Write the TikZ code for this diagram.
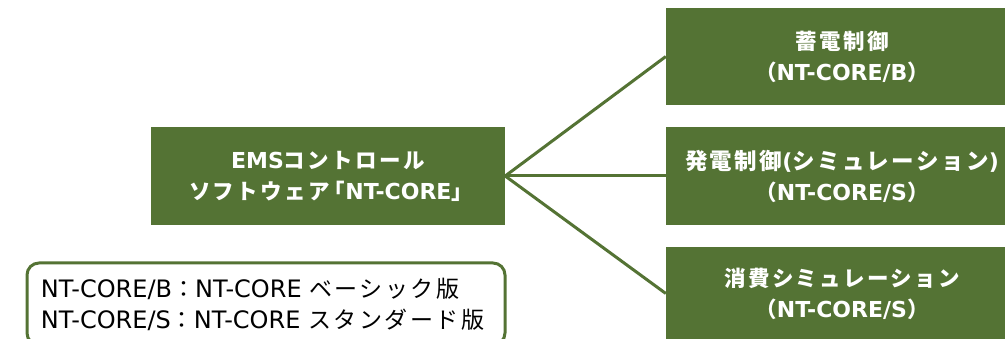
\documentclass[tikz,border=0pt]{standalone}
\usepackage{fontspec}
\setmainfont{Noto Sans CJK JP}[LetterSpace=11]
\newfontfamily\latfont{DejaVu Sans}
\newcommand{\la}[1]{{\latfont\fontsize{24}{31}\selectfont #1}}
\newcommand{\lb}[1]{{\latfont\fontsize{22}{31}\selectfont #1}}
\usetikzlibrary{positioning}
\definecolor{emsgreen}{RGB}{84,115,52}

\begin{document}
\begin{tikzpicture}[x=1pt,y=-1pt]
	\tikzset{box/.style={fill=emsgreen,text=white,font=\fontsize{21.5}{31}\selectfont\bfseries,align=center,inner sep=0pt,minimum height=97pt},
		side/.style={box,minimum width=352pt},
		note/.style={draw=emsgreen,line width=3pt,rounded corners=12pt,fill=white,font=\fontsize{23}{31}\selectfont,align=left,text width=450pt,inner xsep=14pt,minimum height=82pt}}
	\useasboundingbox (0,0) rectangle (1005,339);
	\node[box,minimum width=354pt,minimum height=98pt] (ems) at (328,176) {\lb{EMS}コントロール\\ソフトウェア\kern-6pt「\lb{NT-CORE}」\kern-6pt};
	\node[side] (batt) at (842,56.5) {蓄電制御\\（\lb{NT-CORE/B}）};
	\node[side,minimum height=98pt] (gen) at (842,176) {\fontsize{22.5}{31}\selectfont 発電制御\lb{(}シミュレーション\lb{)}\\（\lb{NT-CORE/S}）};
	\node[side,minimum height=93pt] (load) at (842,293.5) {消費シミュレーション\\（\lb{NT-CORE/S}）};
	\node[note] (legend) at (266,304) {\la{NT-CORE/B}：\la{NT-CORE }ベーシック版\\\la{NT-CORE/S}：\la{NT-CORE }スタンダード版};
	\path[draw=emsgreen,line width=3pt]
		(ems.east) edge (batt.west)
		(ems.east) edge (gen.west)
		(ems.east) edge (load.west);
\end{tikzpicture}
\end{document}
